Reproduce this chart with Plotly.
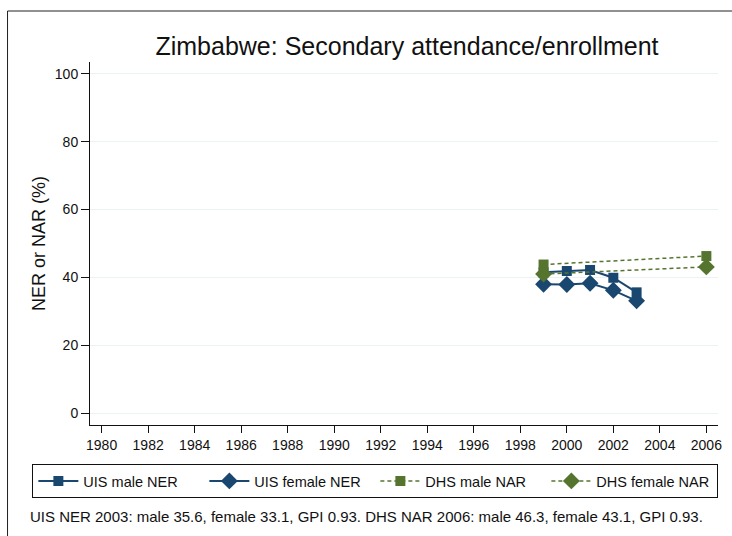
import plotly.graph_objects as go

# Data
uis_years = [1999, 2000, 2001, 2002, 2003]
uis_male = [41.5, 41.9, 42.2, 39.9, 35.6]
uis_female = [38.0, 37.9, 38.3, 36.2, 33.1]

dhs_years = [1999, 2006]
dhs_male = [43.8, 46.3]
dhs_female = [41.0, 43.1]

x_ticks = list(range(1980, 2007, 2))
y_ticks = [0, 20, 40, 60, 80, 100]

BLUE = "#1a476f"
GREEN = "#55752f"
FONT = "Liberation Sans, Arial, sans-serif"

fig = go.Figure()

fig.add_trace(go.Scatter(
    x=uis_years, y=uis_male, name="UIS male NER",
    mode="lines+markers",
    line=dict(color=BLUE, width=2),
    marker=dict(symbol="square", size=10, color=BLUE),
))
fig.add_trace(go.Scatter(
    x=uis_years, y=uis_female, name="UIS female NER",
    mode="lines+markers",
    line=dict(color=BLUE, width=2),
    marker=dict(symbol="diamond", size=13, color=BLUE),
))
fig.add_trace(go.Scatter(
    x=dhs_years, y=dhs_male, name="DHS male NAR",
    mode="lines+markers",
    line=dict(color=GREEN, width=1.5, dash="4px,3px"),
    marker=dict(symbol="square", size=10, color=GREEN),
))
fig.add_trace(go.Scatter(
    x=dhs_years, y=dhs_female, name="DHS female NAR",
    mode="lines+markers",
    line=dict(color=GREEN, width=1.5, dash="4px,3px"),
    marker=dict(symbol="diamond", size=13, color=GREEN),
))

# outer frame (partially cut off on the right and bottom)
fig.add_shape(
    type="rect", xref="paper", yref="paper",
    x0=(7 - 90) / 632, x1=(760 - 90) / 632,
    y0=(425 - 560) / 363, y1=(425 - 11) / 363,
    line=dict(color="#222222", width=1), layer="below",
)

fig.add_annotation(
    text="UIS NER 2003: male 35.6, female 33.1, GPI 0.93. DHS NAR 2006: male 46.3, female 43.1, GPI 0.93.",
    xref="paper", yref="paper",
    x=(28 - 90) / 632, y=(425 - 516) / 363,
    xanchor="left", yanchor="middle", showarrow=False,
    font=dict(size=15, color="#111111", family=FONT),
)

fig.update_layout(
    width=732, height=536,
    margin=dict(l=90, r=10, t=62, b=111),
    paper_bgcolor="white",
    plot_bgcolor="white",
    font=dict(family=FONT, color="#111111"),
    title=dict(
        text="Zimbabwe: Secondary attendance/enrollment",
        x=407 / 732, xanchor="center",
        y=1 - 46 / 536, yanchor="middle",
        font=dict(size=25, color="#111111", family=FONT),
    ),
    xaxis=dict(
        range=[1979.5, 2006.5],
        tickvals=x_ticks,
        ticks="outside", ticklen=7, tickcolor="#111111",
        showline=True, linecolor="#111111", linewidth=1,
        showgrid=False, zeroline=False,
        tickfont=dict(size=14),
    ),
    yaxis=dict(
        range=[-3.5, 103.5],
        tickvals=y_ticks,
        ticks="outside", ticklen=8, tickcolor="#111111",
        showline=True, linecolor="#111111", linewidth=1,
        showgrid=True, gridcolor="#eaf2f3", gridwidth=1,
        zeroline=False,
        tickfont=dict(size=14),
        title=dict(text="NER or NAR (%)", font=dict(size=18), standoff=4),
    ),
    legend=dict(
        orientation="h",
        x=(32 - 90) / 632, xanchor="left",
        y=(425 - 464) / 363, yanchor="top",
        bordercolor="#111111", borderwidth=1,
        font=dict(size=14.5),
        entrywidth=116, entrywidthmode="pixels",
        itemwidth=40,
    ),
    showlegend=True,
)

fig.write_html(
    "out.html",
    config={"displayModeBar": False},
    post_script="document.body.style.margin='0px';",
)
